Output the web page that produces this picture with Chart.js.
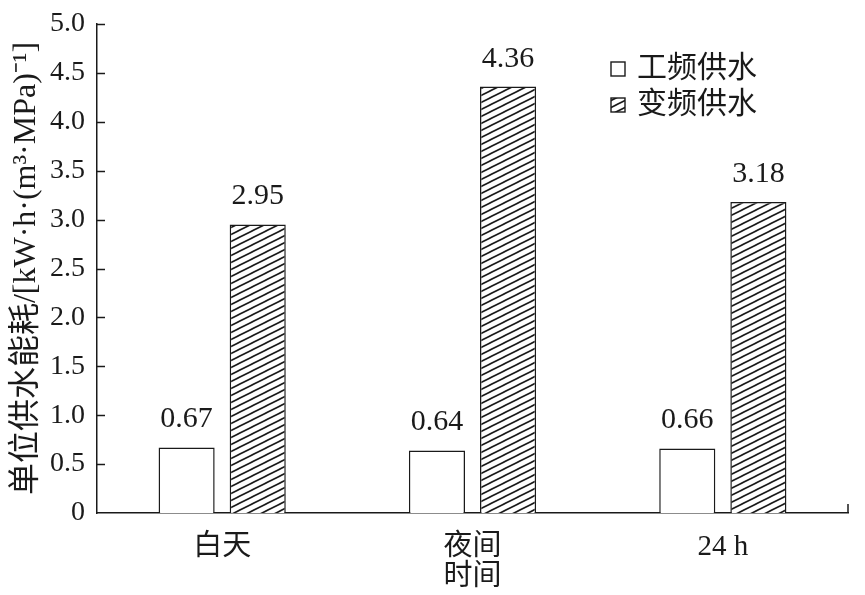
<!DOCTYPE html>
<html>
<head>
<meta charset="utf-8">
<script src="https://cdn.jsdelivr.net/npm/chart.js@4.4.0/dist/chart.umd.min.js"></script>
<style>
    html, body { margin: 0; padding: 0; background: #fff; }
</style>
</head>
<body>
<canvas id="chart1" width="865" height="595"></canvas>
<script>
// data
var categories = ['白天', '夜间', '24 h'];
var seriesNames = ['工频供水', '变频供水'];
var gongpinValues = [0.67, 0.64, 0.66];
var bianpinValues = [2.95, 4.36, 3.18];
var yTickLabels = ['0', '0.5', '1.0', '1.5', '2.0', '2.5', '3.0', '3.5', '4.0', '4.5', '5.0'];
var xTitle = '时间';
var yTitle = '单位供水能耗/[kW·h·(m³·MPa)⁻¹]';

var FONT = '"Liberation Serif", "Noto Sans CJK SC", serif';
var INK = '#1a1a1a';

// diagonal hatch for the second series
function makeHatch() {
    var c = document.createElement('canvas');
    c.width = 14;
    c.height = 7;
    var g = c.getContext('2d');
    g.fillStyle = '#fff';
    g.fillRect(0, 0, 14, 7);
    g.strokeStyle = INK;
    g.lineWidth = 1.6;
    for (var k = -1; k <= 1; k++) {
        g.beginPath();
        g.moveTo(-14, 14 + k * 7);
        g.lineTo(28, -7 + k * 7);
        g.stroke();
    }
    return g.createPattern(c, 'repeat');
}
var hatch = makeHatch();

// value labels above each bar
var valueLabels = {
    id: 'valueLabels',
    afterDatasetsDraw: function (chart) {
        var ctx = chart.ctx;
        ctx.save();
        ctx.font = '30px ' + FONT;
        ctx.fillStyle = INK;
        ctx.textAlign = 'center';
        ctx.textBaseline = 'alphabetic';
        chart.data.datasets.forEach(function (ds, i) {
            chart.getDatasetMeta(i).data.forEach(function (bar, j) {
                ctx.fillText(ds.data[j].toFixed(2), bar.x, bar.y - 20);
            });
        });
        ctx.restore();
    }
};

// inward ticks on the y axis, small end tick on the x axis, and the legend
var axisExtras = {
    id: 'axisExtras',
    afterDraw: function (chart) {
        var ctx = chart.ctx;
        var area = chart.chartArea;
        var y = chart.scales.y;
        ctx.save();
        ctx.strokeStyle = INK;
        ctx.lineWidth = 1.5;
        y.ticks.forEach(function (t) {
            if (t.value === 0) return;
            var py = Math.round(y.getPixelForValue(t.value)) + 0.5;
            ctx.beginPath();
            ctx.moveTo(area.left, py);
            ctx.lineTo(area.left + 8, py);
            ctx.stroke();
        });
        ctx.beginPath();
        ctx.moveTo(area.right, area.bottom);
        ctx.lineTo(area.right, area.bottom - 9);
        ctx.stroke();

        // legend
        var lx = 611, ly = [62, 98];
        var fills = ['#fff', hatch];
        ctx.font = '30px ' + FONT;
        ctx.textAlign = 'left';
        ctx.textBaseline = 'middle';
        for (var i = 0; i < seriesNames.length; i++) {
            ctx.fillStyle = fills[i];
            ctx.fillRect(lx, ly[i], 14, 14);
            ctx.lineWidth = 1.4;
            ctx.strokeRect(lx, ly[i], 14, 14);
            ctx.fillStyle = INK;
            ctx.fillText(seriesNames[i], lx + 26, ly[i] + 7);
        }
        ctx.restore();
    }
};

var ctx = document.getElementById('chart1').getContext('2d');
var myChart = new Chart(ctx, {
    type: 'bar',
    data: {
        labels: categories,
        datasets: [{
            label: seriesNames[0],
            data: gongpinValues,
            backgroundColor: '#fff',
            borderColor: INK,
            borderWidth: 1.5,
            categoryPercentage: 0.568,
            barPercentage: 0.789
        }, {
            label: seriesNames[1],
            data: bianpinValues,
            backgroundColor: hatch,
            borderColor: INK,
            borderWidth: 1.5,
            categoryPercentage: 0.568,
            barPercentage: 0.789
        }]
    },
    options: {
        responsive: false,
        animation: false,
        layout: { padding: { left: 0, right: 17, top: 24, bottom: 0 } },
        plugins: {
            legend: { display: false },
            tooltip: { enabled: false }
        },
        scales: {
            x: {
                grid: { display: false, drawTicks: false },
                border: { display: true, color: INK, width: 1.5 },
                ticks: {
                    color: INK,
                    padding: 20,
                    font: { family: FONT, size: 29, lineHeight: 1 }
                },
                title: {
                    display: true,
                    text: xTitle,
                    color: INK,
                    padding: { top: 0, bottom: 3 },
                    font: { family: FONT, size: 29, lineHeight: 1 }
                },
                afterFit: function (s) { s.height = 82; }
            },
            y: {
                min: 0,
                max: 5,
                grid: { display: false, drawTicks: false },
                border: { display: true, color: INK, width: 1.5 },
                ticks: {
                    stepSize: 0.5,
                    color: INK,
                    padding: 12,
                    font: { family: FONT, size: 28 },
                    callback: function (value, index) {
                        return yTickLabels[index];
                    }
                },
                title: {
                    display: true,
                    text: yTitle,
                    color: INK,
                    padding: { top: 11, bottom: 0 },
                    font: { family: FONT, size: 32, lineHeight: 1 }
                },
                afterFit: function (s) {
                    s.width = 97;
                    s.paddingTop = 0;
                    s.paddingBottom = 0;
                }
            }
        }
    },
    plugins: [valueLabels, axisExtras]
});
</script>
</body>
</html>
